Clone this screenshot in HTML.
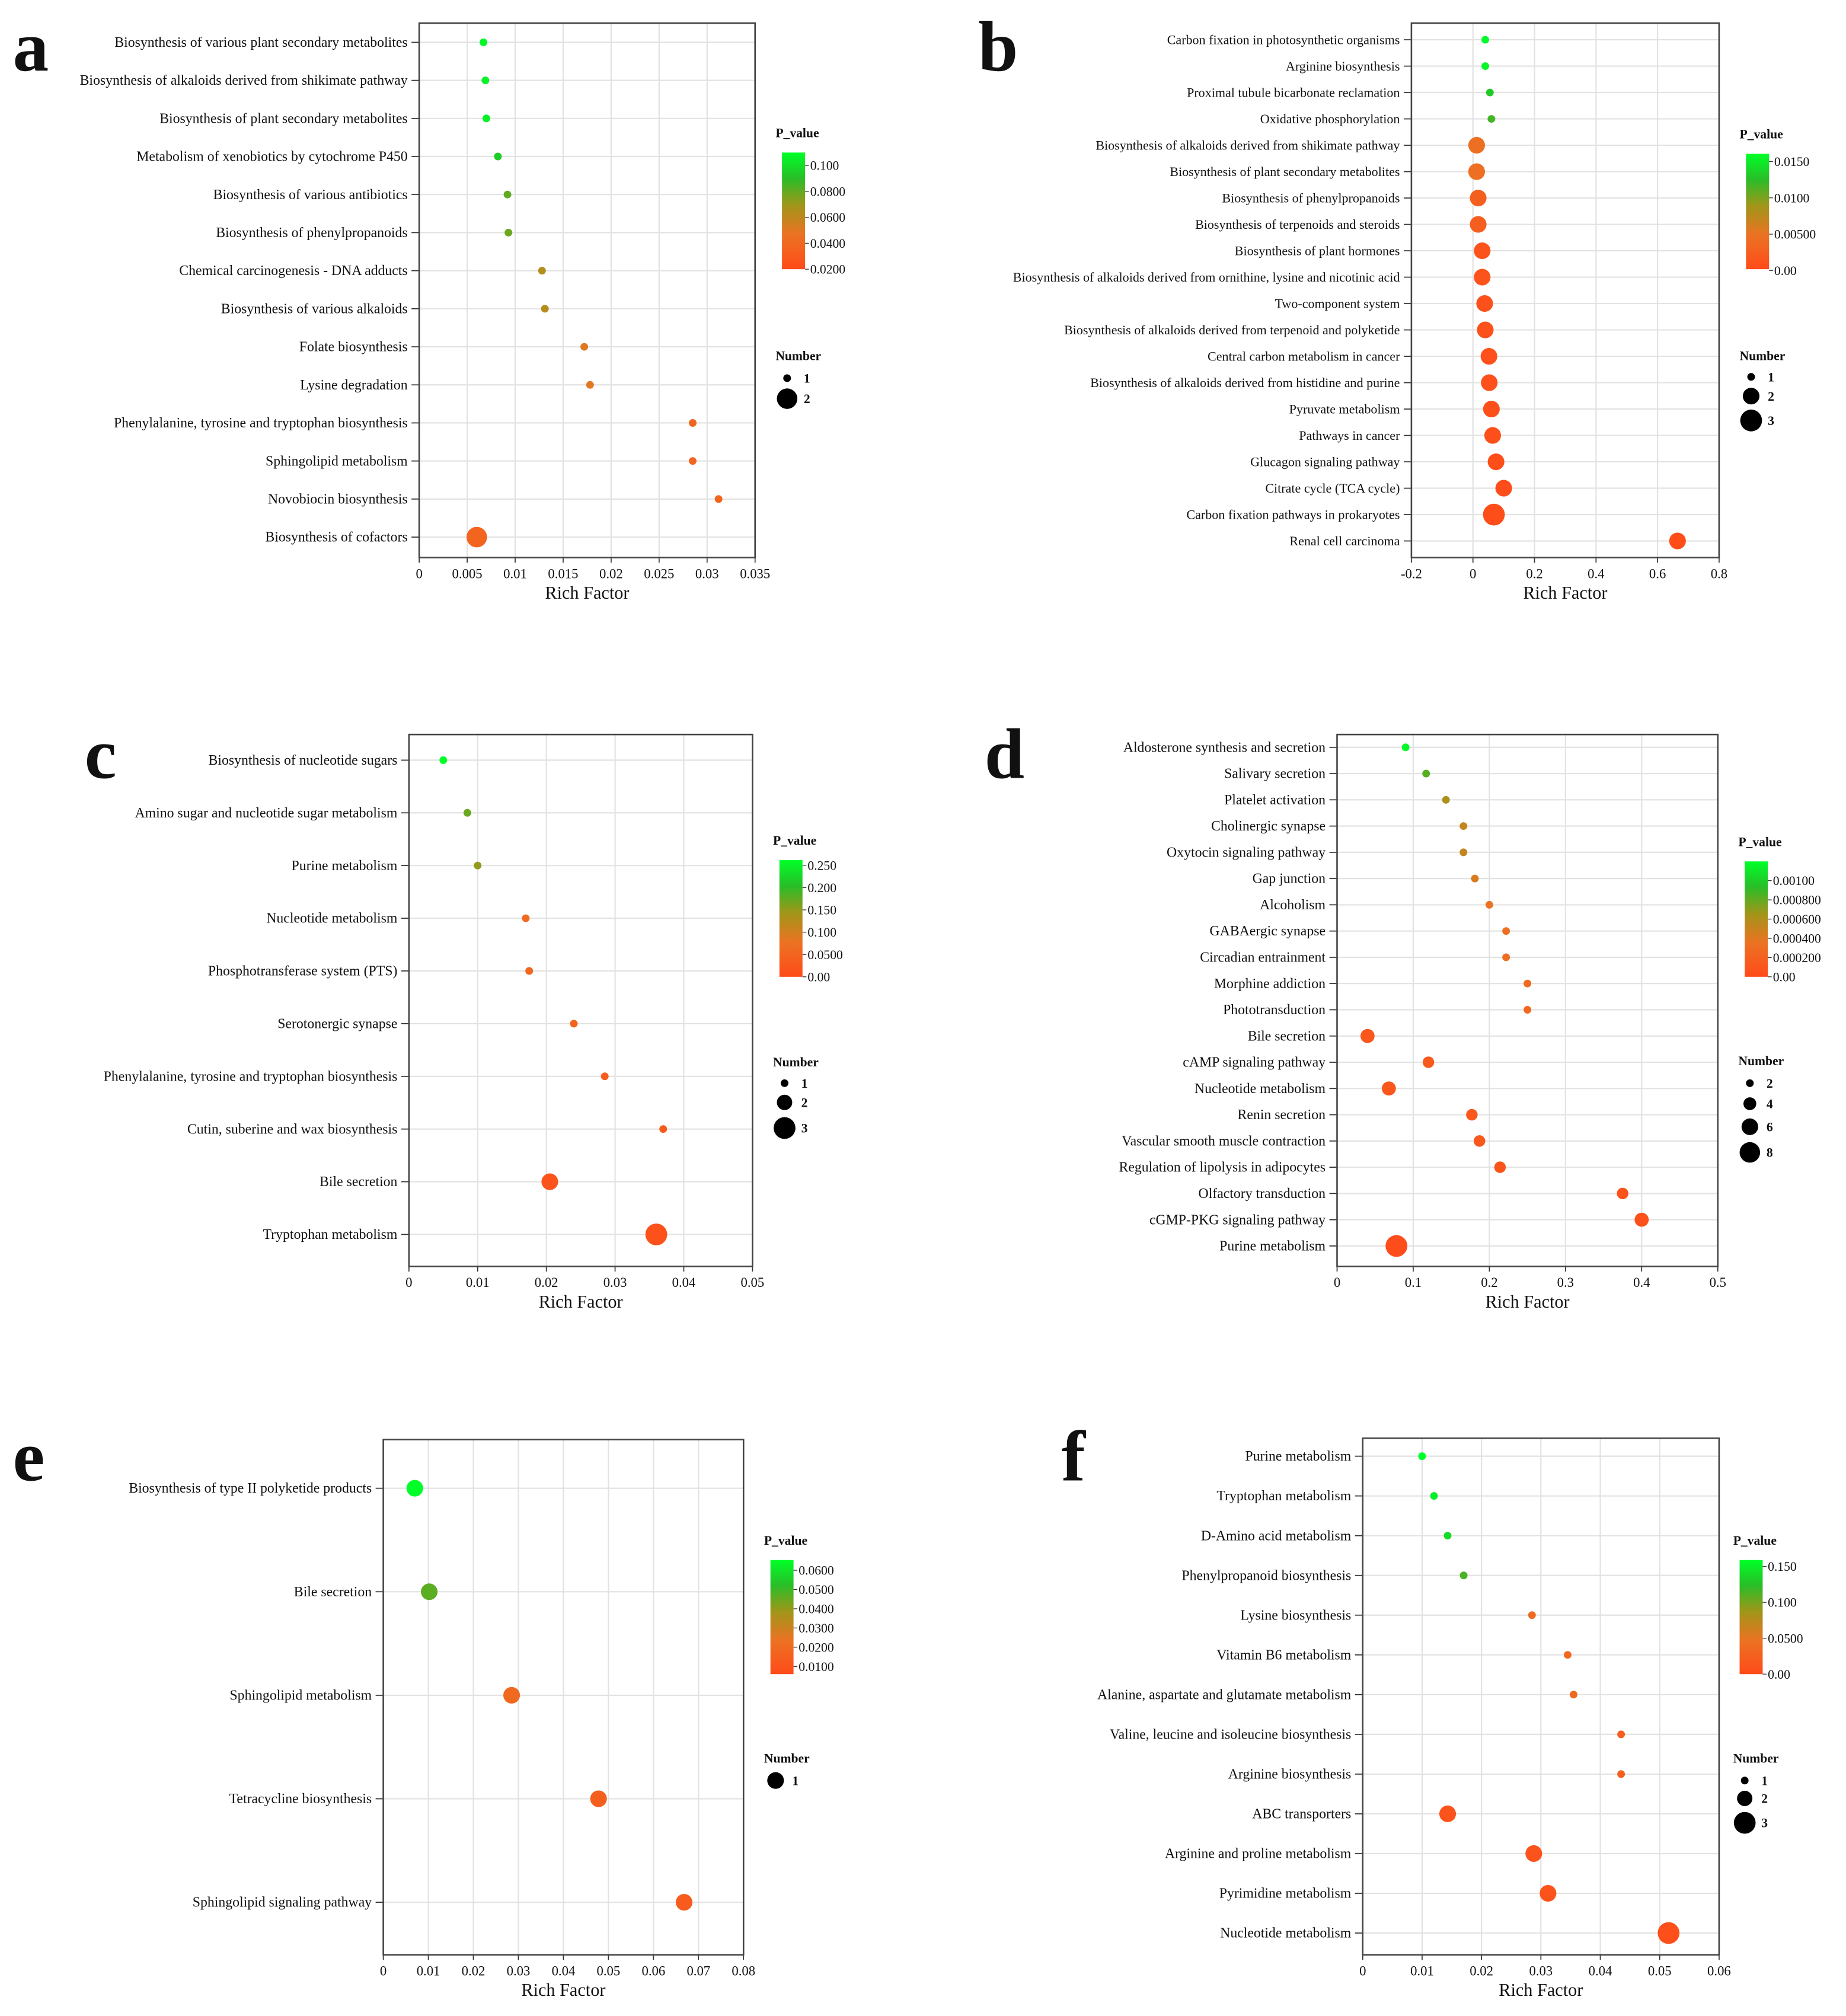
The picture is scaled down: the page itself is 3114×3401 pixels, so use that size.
<!DOCTYPE html>
<html><head><meta charset="utf-8"><style>
html,body{margin:0;padding:0;background:#fff;}
svg{display:block;}
text{font-family:"Liberation Serif",serif;fill:#111;}
</style></head><body>
<svg id="fig" width="3114" height="3401" viewBox="0 0 1440 1572.7" xmlns="http://www.w3.org/2000/svg"></svg>
<script>
// ---- Panel a data ----
const aCats=["Biosynthesis of various plant secondary metabolites","Biosynthesis of alkaloids derived from shikimate pathway","Biosynthesis of plant secondary metabolites","Metabolism of xenobiotics by cytochrome P450","Biosynthesis of various antibiotics","Biosynthesis of phenylpropanoids","Chemical carcinogenesis - DNA adducts","Biosynthesis of various alkaloids","Folate biosynthesis","Lysine degradation","Phenylalanine, tyrosine and tryptophan biosynthesis","Sphingolipid metabolism","Novobiocin biosynthesis","Biosynthesis of cofactors"];
const aRich=[0.0067,0.0069,0.007,0.0082,0.0092,0.0093,0.0128,0.0131,0.0172,0.0178,0.0285,0.0285,0.0312,0.006];
const aNum=[1,1,1,1,1,1,1,1,1,1,1,1,1,2];
const aP=[0.105,0.104,0.103,0.09,0.072,0.07,0.053,0.051,0.038,0.036,0.022,0.022,0.021,0.02];
const aTicks=["0","0.005","0.01","0.015","0.02","0.025","0.03","0.035"];
const aCbar=["0.100","0.0800","0.0600","0.0400","0.0200"];
const aLegend=[1,2];
// ---- Panel b data ----
const bCats=["Carbon fixation in photosynthetic organisms","Arginine biosynthesis","Proximal tubule bicarbonate reclamation","Oxidative phosphorylation","Biosynthesis of alkaloids derived from shikimate pathway","Biosynthesis of plant secondary metabolites","Biosynthesis of phenylpropanoids","Biosynthesis of terpenoids and steroids","Biosynthesis of plant hormones","Biosynthesis of alkaloids derived from ornithine, lysine and nicotinic acid","Two-component system","Biosynthesis of alkaloids derived from terpenoid and polyketide","Central carbon metabolism in cancer","Biosynthesis of alkaloids derived from histidine and purine","Pyruvate metabolism","Pathways in cancer","Glucagon signaling pathway","Citrate cycle (TCA cycle)","Carbon fixation pathways in prokaryotes","Renal cell carcinoma"];
const bRich=[0.04,0.04,0.055,0.06,0.012,0.012,0.017,0.017,0.03,0.03,0.038,0.04,0.052,0.053,0.06,0.064,0.075,0.1,0.068,0.665];
const bNum=[1,1,1,1,2,2,2,2,2,2,2,2,2,2,2,2,2,2,3,2];
const bP=[0.0162,0.016,0.0135,0.012,0.0045,0.0043,0.0025,0.0024,0.001,0.001,0.0008,0.0008,0.0006,0.0006,0.0005,0.0005,0.0004,0.0003,0.0004,0.0002];
const bTicks=["-0.2","0","0.2","0.4","0.6","0.8"];
const bCbar=["0.0150","0.0100","0.00500","0.00"];
const bLegend=[1,2,3];
// ---- Panel c data ----
const cCats=["Biosynthesis of nucleotide sugars","Amino sugar and nucleotide sugar metabolism","Purine metabolism","Nucleotide metabolism","Phosphotransferase system (PTS)","Serotonergic synapse","Phenylalanine, tyrosine and tryptophan biosynthesis","Cutin, suberine and wax biosynthesis","Bile secretion","Tryptophan metabolism"];
const cRich=[0.005,0.0085,0.01,0.017,0.0175,0.024,0.0285,0.037,0.0205,0.036];
const cNum=[1,1,1,1,1,1,1,1,2,3];
const cP=[0.26,0.17,0.15,0.06,0.055,0.045,0.035,0.03,0.015,0.012];
const cTicks=["0","0.01","0.02","0.03","0.04","0.05"];
const cCbar=["0.250","0.200","0.150","0.100","0.0500","0.00"];
const cLegend=[1,2,3];
// ---- Panel d data ----
const dCats=["Aldosterone synthesis and secretion","Salivary secretion","Platelet activation","Cholinergic synapse","Oxytocin signaling pathway","Gap junction","Alcoholism","GABAergic synapse","Circadian entrainment","Morphine addiction","Phototransduction","Bile secretion","cAMP signaling pathway","Nucleotide metabolism","Renin secretion","Vascular smooth muscle contraction","Regulation of lipolysis in adipocytes","Olfactory transduction","cGMP-PKG signaling pathway","Purine metabolism"];
const dRich=[0.09,0.117,0.143,0.166,0.166,0.181,0.2,0.222,0.222,0.25,0.25,0.04,0.12,0.068,0.177,0.187,0.214,0.375,0.4,0.078];
const dNum=[1,1,1,1,1,1,1,1,1,1,1,3,2,3,2,2,2,2,3,5];
const dP=[0.00112,0.0008,0.0006,0.0005,0.0005,0.00042,0.00035,0.0003,0.0003,0.00025,0.00025,0.0001,0.00012,0.0001,0.0001,0.0001,0.00008,0.00006,0.00005,0.00002];
const dTicks=["0","0.1","0.2","0.3","0.4","0.5"];
const dCbar=["0.00100","0.000800","0.000600","0.000400","0.000200","0.00"];
const dLegend=[2,4,6,8];
// ---- Panel e data ----
const eCats=["Biosynthesis of type II polyketide products","Bile secretion","Sphingolipid metabolism","Tetracycline biosynthesis","Sphingolipid signaling pathway"];
const eRich=[0.007,0.0102,0.0285,0.0478,0.0668];
const eNum=[1,1,1,1,1];
const eP=[0.066,0.045,0.015,0.01,0.008];
const eTicks=["0","0.01","0.02","0.03","0.04","0.05","0.06","0.07","0.08"];
const eCbar=["0.0600","0.0500","0.0400","0.0300","0.0200","0.0100"];
const eLegend=[1];
// ---- Panel f data ----
const fCats=["Purine metabolism","Tryptophan metabolism","D-Amino acid metabolism","Phenylpropanoid biosynthesis","Lysine biosynthesis","Vitamin B6 metabolism","Alanine, aspartate and glutamate metabolism","Valine, leucine and isoleucine biosynthesis","Arginine biosynthesis","ABC transporters","Arginine and proline metabolism","Pyrimidine metabolism","Nucleotide metabolism"];
const fRich=[0.01,0.012,0.0143,0.017,0.0285,0.0345,0.0355,0.0435,0.0435,0.0143,0.0288,0.0312,0.0515];
const fNum=[1,1,1,1,1,1,1,1,1,2,2,2,3];
const fP=[0.16,0.15,0.14,0.115,0.04,0.035,0.035,0.025,0.025,0.01,0.01,0.008,0.005];
const fTicks=["0","0.01","0.02","0.03","0.04","0.05","0.06"];
const fCbar=["0.150","0.100","0.0500","0.00"];
const fLegend=[1,2,3];

const NS="http://www.w3.org/2000/svg";
const svg=document.getElementById('fig');
function mk(tag,attrs,parent){const e=document.createElementNS(NS,tag);for(const k in attrs)e.setAttribute(k,attrs[k]);(parent||svg).appendChild(e);return e;}
function txt(s,attrs,parent){const e=mk('text',attrs,parent);e.textContent=s;return e;}
const stops=[[0,[255,75,25]],[0.3,[235,115,35]],[0.55,[160,150,25]],[0.78,[40,190,40]],[1,[0,255,40]]];
function col(t){t=Math.max(0,Math.min(1,t));for(let i=1;i<stops.length;i++){if(t<=stops[i][0]){const a=stops[i-1],b=stops[i];const u=(t-a[0])/(b[0]-a[0]);return 'rgb('+a[1].map((v,j)=>Math.round(v+(b[1][j]-v)*u)).join(',')+')';}}return 'rgb(0,255,40)';}

function panel(cfg){
  const g=mk('g',{});
  
  
  const L=cfg.L,R=cfg.R,T=cfg.T,B=cfg.B;
  const t0=parseFloat(cfg.ticks[0]),t1=parseFloat(cfg.ticks[cfg.ticks.length-1]);
  const xs=v=>L+(v-t0)/(t1-t0)*(R-L);
  const n=cfg.cats.length;
  const ys=i=>n===1?cfg.y0:cfg.y0+i*(cfg.y1-cfg.y0)/(n-1);
  cfg.ticks.forEach(t=>{const x=xs(parseFloat(t));mk('line',{x1:x,x2:x,y1:T,y2:B,stroke:'#e2e2e2','stroke-width':1},g);
    mk('line',{x1:x,x2:x,y1:B,y2:B+4,stroke:'#333','stroke-width':0.8},g);
    const tl=txt(t,{x:x,y:B+16,'font-size':10.5,'text-anchor':'middle'},g);
    
    });
  cfg.cats.forEach((c,i)=>{const y=ys(i);mk('line',{x1:L,x2:R,y1:y,y2:y,stroke:'#e2e2e2','stroke-width':1},g);
    mk('line',{x1:L-6,x2:L,y1:y,y2:y,stroke:'#333','stroke-width':0.8},g);
    const tl=txt(c,{x:L-9,y:y+3.5,'font-size':cfg.fs,'text-anchor':'end'},g);
    
    });
  const fr=mk('rect',{x:L,y:T,width:R-L,height:B-T,fill:'none',stroke:'#444','stroke-width':1.2},g);
  
  
  cfg.cats.forEach((c,i)=>{const d=mk('circle',{cx:xs(cfg.rich[i]),cy:ys(i),r:cfg.rad(cfg.num[i]),fill:col(cfg.p[i]/cfg.pmax)},g);
    
    });
  const xl=txt('Rich Factor',{x:(L+R)/2,y:B+32,'font-size':14,'text-anchor':'middle'},g);
  
  
  const pl=txt(cfg.letter,{x:cfg.lx,y:cfg.ly,'font-size':56,'font-weight':'bold'},g);
  
  
  const cb=cfg.cb;const gid='grad'+cfg.letter;
  const defs=mk('defs',{},g);const lg=mk('linearGradient',{id:gid,x1:0,y1:1,x2:0,y2:0},defs);
  stops.forEach(s=>mk('stop',{offset:s[0],'stop-color':col(s[0])},lg));
  txt('P_value',{x:cb.x-5,y:cb.y0-12,'font-size':10,'font-weight':'bold'},g);
  const cr=mk('rect',{x:cb.x,y:cb.y0,width:18,height:cb.y1-cb.y0,fill:'url(#'+gid+')'},g);
  
  
  cfg.cbar.forEach((s,i)=>{const y=cb.ly0+i*(cb.ly1-cb.ly0)/Math.max(1,cfg.cbar.length-1);
    mk('line',{x1:cb.x+18,x2:cb.x+21,y1:y,y2:y,stroke:'#333','stroke-width':0.6},g);
    txt(s,{x:cb.x+22,y:y+3.5,'font-size':10},g);});
  const nt=txt('Number',{x:cb.x-5,y:cfg.ny,'font-size':10,'font-weight':'bold'},g);
  
  
  cfg.legend.forEach((v,i)=>{const y=cfg.lys[i];const le=mk('circle',{cx:cb.x+4,cy:y,r:cfg.legR(v),fill:'#000'},g);
    
    
    txt(String(v),{x:cb.x+17,y:y+3.5,'font-size':10,'font-weight':'bold'},g);});
}
panel({letter:'a',cats:aCats,rich:aRich,num:aNum,p:aP,pmax:0.108,ticks:aTicks,cbar:aCbar,legend:aLegend,fs:11,
 L:327,R:589,T:18,B:435,y0:33,y1:419,lx:10,ly:55,rad:n=>n===1?3:8,legR:n=>n===1?3:8,
 cb:{x:610,y0:119,y1:210,ly0:129,ly1:210},ny:281,lys:[295,311]});
panel({letter:'b',cats:bCats,rich:bRich,num:bNum,p:bP,pmax:0.0165,ticks:bTicks,cbar:bCbar,legend:bLegend,fs:10.2,
 L:1101,R:1341,T:18,B:435,y0:31,y1:422,lx:763,ly:55,rad:n=>[0,3,6.5,8.5][n],legR:n=>[0,3,6.5,8.5][n],
 cb:{x:1362,y0:120,y1:210,ly0:126,ly1:211},ny:281,lys:[294,309,328]});
panel({letter:'c',cats:cCats,rich:cRich,num:cNum,p:cP,pmax:0.26,ticks:cTicks,cbar:cCbar,legend:cLegend,fs:11,
 L:319,R:587,T:573,B:988,y0:593,y1:963,lx:66,ly:607,rad:n=>[0,3,6.5,8.5][n],legR:n=>[0,3,6,8.5][n],
 cb:{x:608,y0:671,y1:762,ly0:675,ly1:762},ny:832,lys:[845,860,880]});
panel({letter:'d',cats:dCats,rich:dRich,num:dNum,p:dP,pmax:0.00115,ticks:dTicks,cbar:dCbar,legend:dLegend,fs:11,
 L:1043,R:1340,T:573,B:988,y0:583,y1:972,lx:768,ly:607,rad:n=>[0,3,4.5,5.5,6.5,8.5][n],legR:n=>({2:3,4:5,6:6.5,8:8})[n],
 cb:{x:1361,y0:672,y1:762,ly0:687,ly1:762},ny:831,lys:[845,861,879,899]});
panel({letter:'e',cats:eCats,rich:eRich,num:eNum,p:eP,pmax:0.066,ticks:eTicks,cbar:eCbar,legend:eLegend,fs:11,
 L:299,R:580,T:1123,B:1525,y0:1161,y1:1484,lx:10,ly:1155,rad:n=>6.5,legR:n=>6.5,
 cb:{x:601,y0:1217,y1:1306,ly0:1225,ly1:1300},ny:1375,lys:[1389]});
panel({letter:'f',cats:fCats,rich:fRich,num:fNum,p:fP,pmax:0.16,ticks:fTicks,cbar:fCbar,legend:fLegend,fs:11,
 L:1063,R:1341,T:1122,B:1525,y0:1136,y1:1508,lx:828,ly:1155,rad:n=>[0,3,6.5,8.5][n],legR:n=>[0,3,6,8.5][n],
 cb:{x:1357,y0:1217,y1:1306,ly0:1222,ly1:1306},ny:1375,lys:[1389,1403,1422]});
</script>
</body></html>
